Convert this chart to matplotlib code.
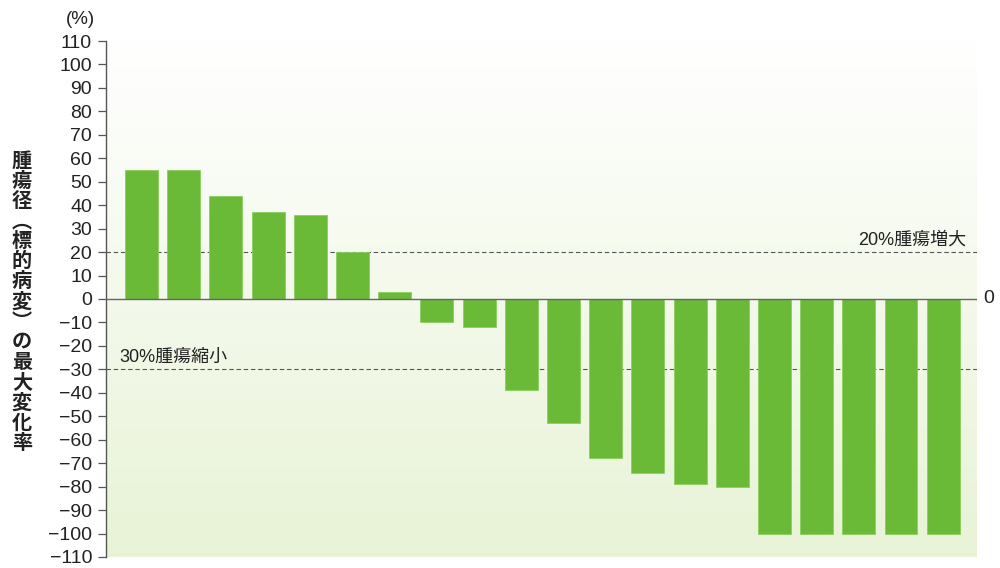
import numpy as np
import matplotlib
matplotlib.use("Agg")
import matplotlib.pyplot as plt

plt.rcParams['font.family'] = ['Liberation Sans', 'Noto Sans CJK JP', 'DejaVu Sans']

# best change in tumour diameter per patient (%), sorted
values = [55, 55, 44, 37, 36, 20, 3, -10, -12, -39, -53, -68, -74, -79, -80,
          -100, -100, -100, -100, -100]
yticks = list(range(-110, 111, 10))
progression = 20
response = -30
ylabel = "腫\n瘍\n径\n︵\n標\n的\n病\n変\n︶\nの\n最\n大\n変\n化\n率"

fig = plt.figure(figsize=(10, 5.68), dpi=100)
ax = fig.add_axes([0.106, 0.0194, 0.871, 0.9084])

x = np.arange(len(values))
xmin, xmax = -0.84, len(values) - 0.2

# white -> pale green background
grad = np.linspace(0, 1, 256).reshape(-1, 1)
top = np.array([1.0, 1.0, 1.0])
bot = np.array([0.91, 0.953, 0.84])
img = top + grad[..., None] * (bot - top)
ax.imshow(img, extent=[xmin, xmax, -110, 110], origin='upper', aspect='auto', zorder=0)
ax.set_xlim(xmin, xmax)
ax.set_ylim(-110, 110)

ax.bar(x, values, width=0.78, color='#6ab937', edgecolor='#8ccf5e', linewidth=0.6, zorder=2)

ax.axhline(0, color='#666666', lw=1.0, zorder=3)
ax.axhline(progression, color='#555555', lw=0.8, ls=(0, (4, 2.5)), zorder=1)
ax.axhline(response, color='#555555', lw=0.8, ls=(0, (4, 2.5)), zorder=1)

ax.text(len(values) - 0.45, progression + 1.3, "20%腫瘍増大", ha='right', va='bottom',
        fontsize=13, color='#222222', family=['Liberation Sans', 'Noto Sans CJK JP'])
ax.text(-0.52, response + 1.3, "30%腫瘍縮小", ha='left', va='bottom',
        fontsize=13, color='#222222', family=['Liberation Sans', 'Noto Sans CJK JP'])
ax.text(len(values) - 0.05, 0, "0", ha='left', va='center', fontsize=14, color='#222222')

ax.set_yticks(yticks)
ax.set_yticklabels([str(v).replace('-', '\u2212') for v in yticks], fontsize=14, color='#222222')
ax.set_xticks([])
ax.tick_params(axis='y', direction='out', length=6, width=0.9, color='#555555', pad=4)
for s in ['top', 'right', 'bottom']:
    ax.spines[s].set_visible(False)
ax.spines['left'].set_color('#555555')
ax.spines['left'].set_linewidth(1.0)

fig.text(0.080, 0.965, "(%)", ha='center', va='center', fontsize=13.5, color='#222222')
fig.text(0.022, 0.47, ylabel, ha='center', va='center', fontsize=14.5, fontweight='bold',
         linespacing=0.95, color='#222222', family=['Noto Sans CJK JP', 'DejaVu Sans'])

fig.savefig("out.png", dpi=100)
